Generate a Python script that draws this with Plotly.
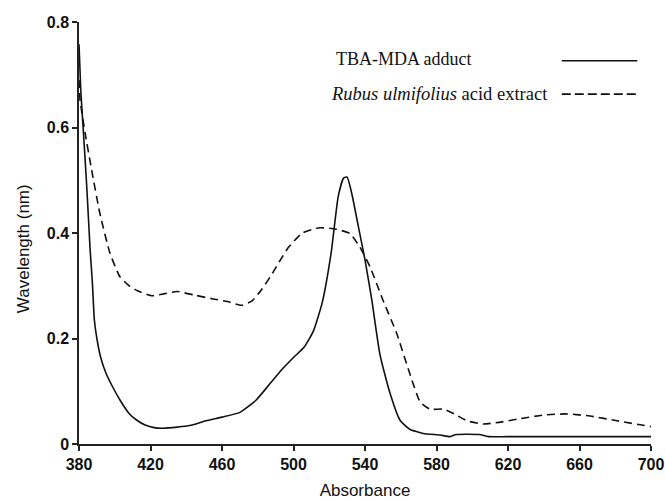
import plotly.graph_objects as go

# TBA-MDA adduct (solid)
adduct_x = [380, 381, 382.4, 384.3, 386.2, 387.5, 388.6, 390, 392, 395, 398.7, 403, 408, 412, 417, 422, 427,
            435, 442, 451, 460, 470, 479, 487, 494, 500, 506, 511, 516, 521, 525, 528, 530, 532.6, 536.3,
            540, 543.8, 548.4, 554, 559.6, 565, 572.6, 582, 587.6, 591, 604, 609, 620, 700]
adduct_y = [0.758, 0.67, 0.595, 0.49, 0.37, 0.305, 0.235, 0.2, 0.166, 0.135, 0.109, 0.083, 0.058, 0.046, 0.036,
            0.031, 0.030, 0.032, 0.035, 0.044, 0.051, 0.060, 0.083, 0.115, 0.143, 0.164, 0.184, 0.213, 0.267,
            0.361, 0.469, 0.504, 0.506, 0.475, 0.412, 0.349, 0.273, 0.169, 0.096, 0.045, 0.028, 0.020, 0.017,
            0.014, 0.018, 0.018, 0.014, 0.014, 0.014]

# Rubus ulmifolius acid extract (dashed)
extract_x = [380, 380.6, 383.4, 387.1, 391.7, 397.3, 402.9, 408, 413, 421, 428, 435, 445, 455, 463, 471, 477,
             482, 487, 492, 497, 505, 514.8, 524, 531.6, 537, 542.8, 550, 557.7, 565, 570.8, 576.4, 584, 591,
             597, 606, 615, 625, 640, 653, 666, 681, 700]
extract_y = [0.69, 0.652, 0.59, 0.519, 0.437, 0.362, 0.317, 0.30, 0.29, 0.281, 0.285, 0.289, 0.282, 0.275,
             0.270, 0.263, 0.272, 0.292, 0.317, 0.345, 0.372, 0.400, 0.410, 0.407, 0.399, 0.374, 0.336, 0.273,
             0.210, 0.134, 0.080, 0.066, 0.066, 0.055, 0.044, 0.038, 0.041, 0.047, 0.055, 0.057, 0.053, 0.044,
             0.033]

x_ticks = [380, 420, 460, 500, 540, 580, 620, 660, 700]
x_ticktext = ["380", "420", "460", "500", "540", "580", "620", "660", "700"]
y_ticks = [0, 0.2, 0.4, 0.6, 0.8]
y_ticktext = ["0", "0.2", "0.4", "0.6", "0.8"]

legend_names = ["TBA-MDA adduct", "<i>Rubus ulmifolius</i> acid extract"]
x_title = "Absorbance"
y_title = "Wavelength (nm)"

fig = go.Figure()
fig.add_trace(go.Scatter(x=adduct_x, y=adduct_y, mode="lines", name=legend_names[0],
                         line=dict(color="#111111", width=1.6, shape="spline", smoothing=0.5),
                         showlegend=False))
fig.add_trace(go.Scatter(x=extract_x, y=extract_y, mode="lines", name=legend_names[1],
                         line=dict(color="#111111", width=1.6, dash="8px,5px", shape="spline", smoothing=0.5),
                         showlegend=False))

# Custom legend (text left, line sample right)
serif = "Liberation Serif, Times New Roman, serif"
fig.add_annotation(xref="paper", yref="paper", x=0.446, y=0.912, text=legend_names[0], showarrow=False,
                   xanchor="left", yanchor="middle", font=dict(family=serif, size=18, color="#111111"))
fig.add_annotation(xref="paper", yref="paper", x=0.437, y=0.830, text=legend_names[1], showarrow=False,
                   xanchor="left", yanchor="middle", font=dict(family=serif, size=18.5, color="#111111"))
fig.add_shape(type="line", xref="paper", yref="paper", x0=0.844, x1=0.976, y0=0.908, y1=0.908,
              line=dict(color="#111111", width=1.6))
fig.add_shape(type="line", xref="paper", yref="paper", x0=0.844, x1=0.976, y0=0.829, y1=0.829,
              line=dict(color="#111111", width=1.6, dash="9px,4px"))

sans = "Liberation Sans, Arial, sans-serif"
# Y axis title placed as annotation (slightly below centre as in reference)
fig.add_annotation(xref="paper", yref="paper", x=-0.098, y=0.464, text=y_title, showarrow=False,
                   textangle=-90, xanchor="center", yanchor="middle",
                   font=dict(family=sans, size=17, color="#111111"))

fig.update_layout(
    width=665, height=500,
    margin=dict(l=79, r=14, t=22, b=56),
    plot_bgcolor="white", paper_bgcolor="white",
    font=dict(family=sans, color="#111111"),
)
fig.update_xaxes(range=[380, 700], tickvals=x_ticks, ticktext=x_ticktext, automargin=False,
                 showgrid=False, zeroline=False, showline=True, linecolor="#222222", linewidth=1.5,
                 ticks="outside", ticklen=5, tickwidth=1.5, tickcolor="#222222",
                 tickfont=dict(family=sans, size=16, color="#111111", weight="bold"),
                 title=dict(text=x_title, font=dict(family=sans, size=17, color="#111111"), standoff=12))
fig.update_yaxes(range=[0, 0.8], tickvals=y_ticks, ticktext=y_ticktext, automargin=False,
                 showgrid=False, zeroline=False, showline=True, linecolor="#222222", linewidth=1.5,
                 ticks="outside", ticklen=5, tickwidth=1.5, tickcolor="#222222",
                 tickfont=dict(family=sans, size=16, color="#111111", weight="bold"))

fig.write_html("out.html", config={"displayModeBar": False},
               post_script="document.body.style.margin='0';document.body.style.padding='0';")
